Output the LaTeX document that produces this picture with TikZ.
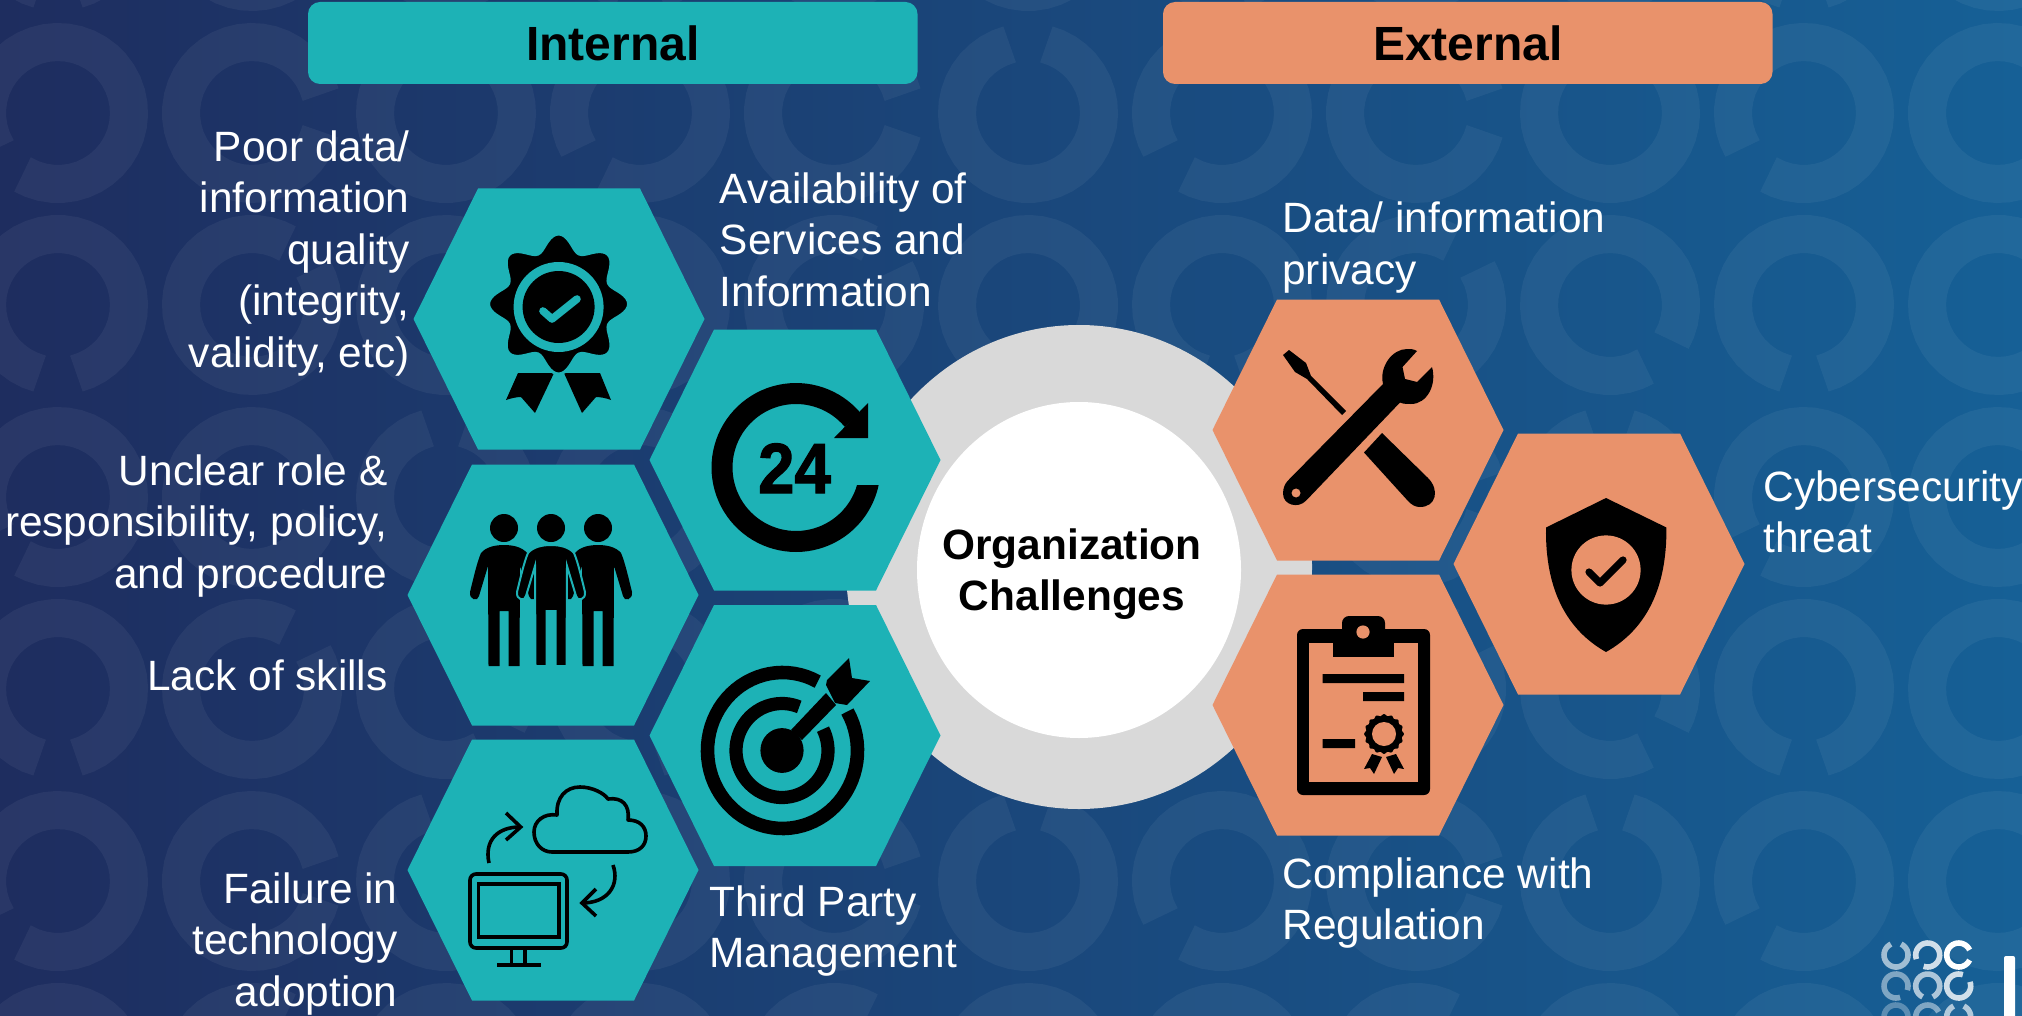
\documentclass[tikz,border=0pt]{standalone}
\usepackage{fontspec}
\setmainfont{Liberation Sans}
\newfontface\heavyface[FakeBold=1.6]{Liberation Sans Bold}
\definecolor{tealx}{HTML}{1DB2B6}
\definecolor{orangex}{HTML}{E9926B}
\definecolor{grayx}{HTML}{D9D9D9}
\definecolor{bgl}{HTML}{1E2D5F}
\definecolor{bgm}{HTML}{1A3B70}
\definecolor{bgr}{HTML}{166096}
\newcommand{\hexa}[3]{\fill[#3] ({#1-145.5},{#2}) -- ({#1-81},{#2-130.5}) -- ({#1+81},{#2-130.5}) -- ({#1+145.5},{#2}) -- ({#1+81},{#2+130.5}) -- ({#1-81},{#2+130.5}) -- cycle;}
\newcommand{\person}[1]{
  (#1,545) .. controls ({#1+9},545) and ({#1+18},547) .. ({#1+23},553)
  .. controls ({#1+27},562) and ({#1+31},580) .. ({#1+34},592)
  .. controls ({#1+35},600) and ({#1+26},602) .. ({#1+25},596)
  -- ({#1+16},566) -- ({#1+15.5},666) -- ({#1+4.5},666) -- ({#1+4.5},611) -- ({#1-4.5},611) -- ({#1-4.5},666) -- ({#1-15.5},666) -- ({#1-16},566) -- ({#1-25},596)
  .. controls ({#1-26},602) and ({#1-35},600) .. ({#1-34},592)
  .. controls ({#1-31},580) and ({#1-27},562) .. ({#1-23},553)
  .. controls ({#1-18},547) and ({#1-9},545) .. (#1,545) -- cycle}
\tikzset{
  label/.style={text=white,inner sep=0pt,font=\fontsize{21.2}{25.8}\selectfont},
  lbll/.style={label,align=left,anchor=north west},
  lblr/.style={label,align=right,anchor=north east},
  head/.style={rounded corners=6pt,minimum width=304.75pt,minimum height=41pt,inner sep=0pt,text=black,font=\fontsize{24}{28}\selectfont\bfseries},
  bgring/.style={draw=white,draw opacity=0.052,line width=19pt},
  iconline/.style={draw=black,line width=1.8pt,fill=none},
}
\begin{document}
\begin{tikzpicture}[x=0.5pt,y=-0.5pt]
\useasboundingbox (0,0) rectangle (2022,1016);
\clip (0,0) rectangle (2022,1016);
\shade[left color=bgl,middle color=bgm,right color=bgr] (0,0) rectangle (2022,1016);
% background rings
\foreach \i in {0,...,10}{
 \foreach \j in {-1,...,5}{
  \pgfmathtruncatemacro\ii{mod(\i,3)}
  \pgfmathtruncatemacro\jj{mod(\j+2,2)}
  \ifnum\jj=0 \pgfmathsetmacro\gp{{225,0,90}[\ii]}\else\pgfmathsetmacro\gp{{270,45,315}[\ii]}\fi
  \pgfmathsetmacro\cxx{58+194*\i}
  \pgfmathsetmacro\cyy{113+192*\j}
  \draw[bgring] plot[domain=\gp+15:\gp+345,samples=40,variable=\t] ({\cxx+71*cos(\t)},{\cyy-71*sin(\t)});
 }
}
% hub
\fill[grayx] (1079,567) ellipse [x radius=233pt/2,y radius=242pt/2];
\fill[white] (1079,570) ellipse [x radius=162pt/2,y radius=168pt/2];
\node[inner sep=0pt,align=center,anchor=north,font=\fontsize{21.2}{25.6}\selectfont\bfseries] (hubtext) at (1072,528) {Organization\\Challenges};
% headers
\node[head,fill=tealx] (internal) at (612.75,43) {\raisebox{-1pt}{Internal}};
\node[head,fill=orangex] (external) at (1467.75,43) {\raisebox{-1pt}{External}};
% hexagons
\hexa{559}{319}{tealx}
\hexa{795}{460}{tealx}
\hexa{553}{595}{tealx}
\hexa{795}{735.5}{tealx}
\hexa{553}{870}{tealx}
\hexa{1358}{430}{orangex}
\hexa{1599}{564}{orangex}
\hexa{1358}{705}{orangex}
% award icon
\fill[black] (518,373) -- (506,400) .. controls (512,398) and (517,397) .. (521,397) -- (535,413) -- (554,373) -- cycle;
\fill[black] (564,373) -- (582,413) -- (596,397) .. controls (600,397) and (606,398) .. (611,400) -- (600,373) -- cycle;
\path[fill=black,draw=tealx,line width=1.5pt] plot[domain=0:360,samples=145,variable=\t] ({558.6+(62+8*cos(8*(\t-90)))*cos(\t)},{304-(62+8*cos(8*(\t-90)))*sin(\t)}) -- cycle;
\fill[tealx] (558.6,307) circle[radius=22.5pt];
\fill[black] (558.6,307) circle[radius=18pt];
\draw[tealx,line width=3.8pt,line cap=round,line join=round] (543,311) -- (552,319) -- (577,299);
% 24 icon
\fill[black] plot[domain=40:348,samples=80,variable=\t] ({796+84.5*cos(\t)},{467.5-84.5*sin(\t)}) -- plot[domain=344:40,samples=80,variable=\t] ({796+63.5*cos(\t)},{467.5-63.5*sin(\t)}) -- cycle;
\fill[black] (868,403) -- (868,438) -- (834,438) -- cycle;
\node[inner sep=0pt,anchor=base,font=\fontsize{35.5}{36}\heavyface,xscale=0.92] (twentyfour) at (794.5,493) {24};
% people icon
\fill[black] (504,528) circle[radius=7pt] (551,528) circle[radius=7pt] (598,528) circle[radius=7pt];
\fill[black] \person{504};
\fill[black] \person{598};
\path[fill=black,draw=tealx,line width=1pt] \person{551};
% target icon
\draw[black,line width=6.8pt] plot[domain=62:390,samples=70,variable=\t] ({782.5+75*cos(\t)},{750.5-78*sin(\t)});
\draw[black,line width=6.6pt] plot[domain=68:387,samples=70,variable=\t] ({782+46*cos(\t)},{750.5-47*sin(\t)});
\fill[black] (782,750.5) ellipse[x radius=10.8pt,y radius=11.2pt];
\fill[black] (791,730) -- (826,693) -- (836,705) -- (802,740) -- cycle;
\fill[black] (849,658) -- (852,678) -- (870,681) -- (847,705) -- (835,703) -- (826,685) -- (827,680) -- cycle;
% cloud icon
\draw[iconline,line join=round] (552,852) -- (628,852) .. controls (640,852) and (646,845) .. (646,836) .. controls (646,827) and (640,820) .. (628,820) .. controls (630,805) and (622,797) .. (608,799) .. controls (604,793) and (592,787) .. (580,787) .. controls (566,787) and (556,797) .. (557,815) .. controls (544,813) and (534,821) .. (534,832) .. controls (534,844) and (542,852) .. (552,852) -- cycle;
\draw[iconline] (489,863) .. controls (484,840) and (498,827) .. (520,827);
\draw[iconline] (506,813) -- (520.7,827) -- (506,840);
\draw[iconline] (613,865) .. controls (620,885) and (608,903) .. (582,903);
\draw[iconline] (596,889) -- (582,903) -- (596,916);
\draw[iconline,rounded corners=3pt] (470,874) rectangle (567,948);
\draw[iconline] (478.5,884) rectangle (559,937);
\draw[iconline] (511.5,948) -- (511.5,965) (525,948) -- (525,965) (497,965) -- (541,965);
% tools icon
\fill[black] (1283,355) -- (1289,350) -- (1306,363) -- (1311,376) -- (1346,411) -- (1342,415) -- (1307,379) -- (1295,372) -- cycle;
\fill[black] (1382,433) -- (1428,478) .. controls (1440,490) and (1436,507) .. (1420,507) .. controls (1415,507) and (1412,505) .. (1408,501) -- (1364,452.5) -- cycle;
\fill[black,even odd rule] (1287.5,481) -- (1383,384) .. controls (1379,367) and (1392,349) .. (1407,349) .. controls (1410,349) and (1414,349) .. (1417,351) -- (1402.5,367) -- (1405,379) -- (1417,382) -- (1432,367) .. controls (1437,385) and (1427,404) .. (1411,404) .. controls (1407,404) and (1403,404) .. (1400,402.5) -- (1306,500.7) .. controls (1298,509) and (1283,505) .. (1283,493.6) .. controls (1283,488) and (1285,484) .. (1287.5,481) -- cycle (1296,493) circle[radius=2.3pt];
% shield icon
\fill[black] (1606,498) -- (1666.4,527.5) .. controls (1667,590) and (1645,630) .. (1606,652) .. controls (1567,630) and (1545,590) .. (1546,527.5) -- cycle;
\fill[orangex] (1606,570) circle[radius=17.3pt];
\draw[black,line width=3.6pt,line cap=round,line join=round] (1589,572) -- (1600,583) -- (1623,560);
% clipboard icon
\fill[black,rounded corners=3pt] (1297,629) rectangle (1430,795);
\fill[orangex] (1309,643) rectangle (1418,782);
\fill[black,rounded corners=3.5pt] (1342,616) rectangle (1385,640);
\fill[black] (1333,629) rectangle (1394,657);
\fill[orangex] (1363,632) circle[radius=3.3pt];
\fill[black] (1322.5,674) rectangle (1404,683) (1363,692) rectangle (1404,701) (1322.5,739) rectangle (1355,748);
\fill[black] (1372,754) -- (1364,769) -- (1370,768) -- (1374,774) -- (1382,757) -- cycle;
\fill[black] (1386,757) -- (1394,774) -- (1398,768) -- (1404,769) -- (1396,754) -- cycle;
\fill[black] plot[domain=0:360,samples=145,variable=\t] ({1384+(19+0.9*cos(16*\t))*cos(\t)},{734-(19+0.9*cos(16*\t))*sin(\t)}) -- cycle;
\fill[orangex] (1384,734) circle[radius=6pt];
% logo
\foreach \cx/\cy/\gp/\op in {1896/955/90/0.6,1927.7/955/225/0.8,1958.7/955/0/1,1896/986/315/0.45,1927.7/986/270/0.65,1958.7/986/45/0.8,1896/1017/225/0.3,1927.7/1017/0/0.45,1958.7/1017/90/0.65}{
  \draw[white,opacity=\op,line width=2.8pt] plot[domain=\gp+25:\gp+335,samples=30,variable=\t] ({\cx+12*cos(\t)},{\cy-12*sin(\t)});
}
\fill[white,rounded corners=1pt] (2004,956) rectangle (2015,1030);
% labels
\node[lblr] (poor) at (410,130) {Poor data/\\information\\quality\\(integrity,\\validity, etc)};
\node[lbll] (avail) at (719.5,172) {Availability of\\Services and\\Information};
\node[lblr] (unclear) at (388,454) {Unclear role \&\\responsibility, policy,\\and procedure};
\node[lblr] (lack) at (388,659) {Lack of skills};
\node[lblr] (failure) at (398,872) {Failure in\\technology\\adoption};
\node[lbll] (third) at (709,885) {Third Party\\Management};
\node[lbll] (data) at (1282,201.5) {Data/ information\\privacy};
\node[lbll] (cyber) at (1763,470) {Cybersecurity\\threat};
\node[lbll] (comply) at (1282,857) {Compliance with\\Regulation};
\end{tikzpicture}
\end{document}
